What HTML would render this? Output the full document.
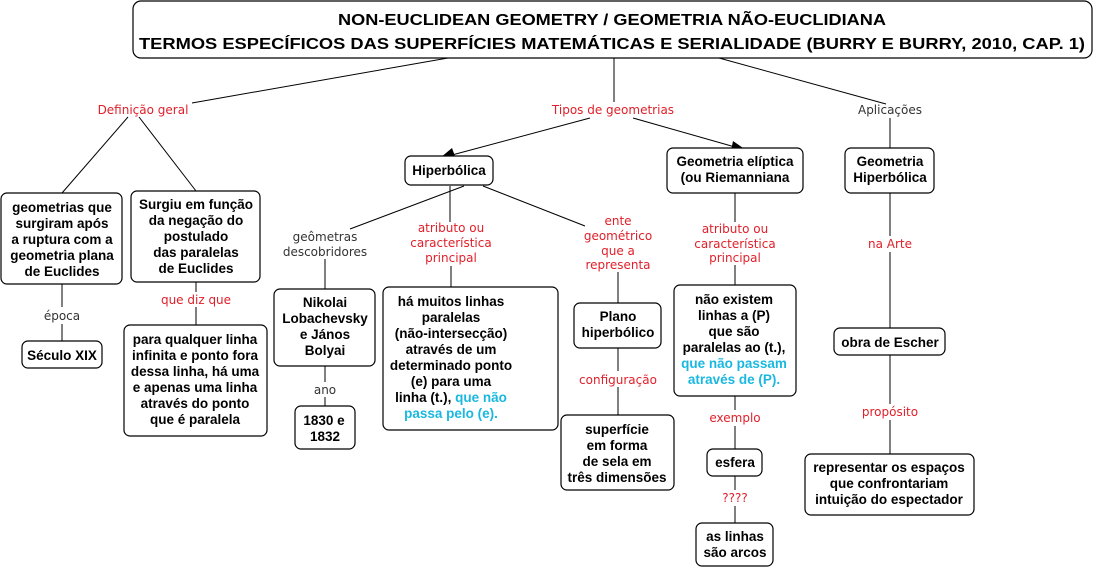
<!DOCTYPE html>
<html><head><meta charset="utf-8"><style>
body{margin:0;background:#fff;}
svg{display:block}
.n{font-family:"Liberation Sans",Arial,sans-serif;font-weight:bold;font-size:13.5px;fill:#000;text-anchor:middle}
.l{font-family:"DejaVu Sans",Verdana,sans-serif;font-size:12px;fill:#e0202a;text-anchor:middle}
.k{fill:#333}
.c{fill:#1ab8e0}
rect{fill:#fff;stroke:#000;stroke-width:1.2}
line{stroke:#000;stroke-width:1}
</style></head><body>
<svg width="1097" height="569" xmlns="http://www.w3.org/2000/svg">
<line x1="448" y1="58" x2="192" y2="103"/>
<line x1="614" y1="58" x2="614" y2="102"/>
<line x1="719" y1="58" x2="886" y2="104"/>
<line x1="128" y1="117" x2="62" y2="193"/>
<line x1="139" y1="117" x2="196" y2="191"/>
<line x1="590" y1="118" x2="452" y2="155"/>
<polygon points="440,158 452,148 456,159" fill="#000"/>
<line x1="633" y1="118" x2="735" y2="147"/>
<polygon points="746,150 733,141 731,151" fill="#000"/>
<line x1="890" y1="118" x2="890" y2="148"/>
<line x1="62" y1="284" x2="62" y2="307"/><line x1="62" y1="324" x2="62" y2="341"/>
<line x1="196" y1="282" x2="196" y2="292"/><line x1="196" y1="307" x2="196" y2="325"/>
<line x1="464" y1="186" x2="350" y2="229"/>
<line x1="450" y1="186" x2="450" y2="222"/>
<line x1="483" y1="186" x2="585" y2="226"/>
<line x1="325" y1="259" x2="325" y2="289"/>
<line x1="325" y1="366" x2="325" y2="382"/><line x1="325" y1="397" x2="325" y2="406"/>
<line x1="451" y1="266" x2="451" y2="287"/>
<line x1="618" y1="272" x2="618" y2="303"/>
<line x1="618" y1="348" x2="618" y2="371"/><line x1="618" y1="387" x2="618" y2="415"/>
<line x1="735" y1="193" x2="735" y2="222"/><line x1="735" y1="265" x2="735" y2="285"/>
<line x1="735" y1="396" x2="735" y2="410"/><line x1="735" y1="426" x2="735" y2="449"/>
<line x1="735" y1="476" x2="735" y2="490"/><line x1="735" y1="506" x2="735" y2="523"/>
<line x1="890" y1="193" x2="890" y2="236"/><line x1="890" y1="252" x2="890" y2="328"/>
<line x1="890" y1="355" x2="890" y2="404"/><line x1="890" y1="420" x2="890" y2="454"/>

<rect x="133" y="1" width="959" height="57" rx="8"/>
<text class="n" x="612" y="25" style="font-size:16px" textLength="548" lengthAdjust="spacingAndGlyphs">NON-EUCLIDEAN GEOMETRY / GEOMETRIA NÃO-EUCLIDIANA</text>
<text class="n" x="612" y="49" style="font-size:16px" textLength="946" lengthAdjust="spacingAndGlyphs">TERMOS ESPECÍFICOS DAS SUPERFÍCIES MATEMÁTICAS E SERIALIDADE (BURRY E BURRY, 2010, CAP. 1)</text>

<text class="l" x="143" y="114">Definição geral</text>
<text class="l" x="613" y="114">Tipos de geometrias</text>
<text class="l k" x="890" y="114">Aplicações</text>
<text class="l k" x="62" y="320">época</text>
<text class="l" x="196" y="304">que diz que</text>
<text class="l k" x="325" y="241">geômetras</text><text class="l k" x="325" y="256">descobridores</text>
<text class="l k" x="325" y="394">ano</text>
<text class="l" x="451" y="232">atributo ou</text><text class="l" x="451" y="247">característica</text><text class="l" x="451" y="262">principal</text>
<text class="l" x="618" y="225">ente</text><text class="l" x="618" y="240">geométrico</text><text class="l" x="618" y="255">que a</text><text class="l" x="618" y="269">representa</text>
<text class="l" x="618" y="384">configuração</text>
<text class="l" x="735" y="233">atributo ou</text><text class="l" x="735" y="248">característica</text><text class="l" x="735" y="262">principal</text>
<text class="l" x="735" y="422">exemplo</text>
<text class="l" x="735" y="502">????</text>
<text class="l" x="890" y="248">na Arte</text>
<text class="l" x="890" y="416">propósito</text>

<rect x="1" y="193" width="121" height="91" rx="6"/>
<text class="n" x="62" y="212">geometrias que</text><text class="n" x="62" y="228">surgiram após</text><text class="n" x="62" y="244">a ruptura com a</text><text class="n" x="62" y="260">geometria plana</text><text class="n" x="62" y="276">de Euclides</text>

<rect x="131" y="191" width="129" height="91" rx="6"/>
<text class="n" x="196" y="209">Surgiu em função</text><text class="n" x="196" y="225">da negação do</text><text class="n" x="196" y="241">postulado</text><text class="n" x="196" y="257">das paralelas</text><text class="n" x="196" y="273">de Euclides</text>

<rect x="22" y="341" width="80" height="27" rx="6"/>
<text class="n" x="62" y="360">Século XIX</text>

<rect x="124" y="325" width="143" height="111" rx="6"/>
<text class="n" x="195" y="344">para qualquer linha</text><text class="n" x="195" y="360">infinita e ponto fora</text><text class="n" x="195" y="376">dessa linha, há uma</text><text class="n" x="195" y="392">e apenas uma linha</text><text class="n" x="195" y="408">através do ponto</text><text class="n" x="195" y="424">que é paralela</text>

<rect x="405" y="156" width="88" height="29" rx="6"/>
<text class="n" x="449" y="175">Hiperbólica</text>

<rect x="274" y="289" width="101" height="77" rx="6"/>
<text class="n" x="325" y="307">Nikolai</text><text class="n" x="325" y="323">Lobachevsky</text><text class="n" x="325" y="339">e János</text><text class="n" x="325" y="355">Bolyai</text>

<rect x="295" y="406" width="60" height="43" rx="6"/>
<text class="n" x="324" y="425">1830 e</text><text class="n" x="325" y="441">1832</text>

<rect x="383" y="287" width="175" height="143" rx="6"/>
<text class="n" x="451" y="306">há muitos linhas</text><text class="n" x="451" y="322">paralelas</text><text class="n" x="451" y="338">(não-intersecção)</text><text class="n" x="451" y="354">através de um</text><text class="n" x="451" y="370">determinado ponto</text><text class="n" x="451" y="386">(e) para uma</text>
<text class="n" x="451" y="402">linha (t.), <tspan class="c">que não</tspan></text><text class="n c" x="451" y="418">passa pelo (e).</text>

<rect x="574" y="303" width="87" height="45" rx="6"/>
<text class="n" x="618" y="321">Plano</text><text class="n" x="618" y="337">hiperbólico</text>

<rect x="561" y="415" width="113" height="75" rx="6"/>
<text class="n" x="617" y="434">superfície</text><text class="n" x="617" y="450">em forma</text><text class="n" x="617" y="466">de sela em</text><text class="n" x="617" y="482">três dimensões</text>

<rect x="667" y="148" width="136" height="45" rx="6"/>
<text class="n" x="735" y="166">Geometria elíptica</text><text class="n" x="735" y="182">(ou Riemanniana</text>

<rect x="674" y="285" width="122" height="111" rx="6"/>
<text class="n" x="734" y="304">não existem</text><text class="n" x="734" y="320">linhas a (P)</text><text class="n" x="734" y="336">que são</text><text class="n" x="734" y="352">paralelas ao (t.),</text><text class="n c" x="734" y="368">que não passam</text><text class="n c" x="734" y="384">através de (P).</text>

<rect x="707" y="449" width="55" height="27" rx="6"/>
<text class="n" x="735" y="467">esfera</text>

<rect x="696" y="523" width="77" height="43" rx="6"/>
<text class="n" x="735" y="541">as linhas</text><text class="n" x="735" y="557">são arcos</text>

<rect x="845" y="148" width="89" height="45" rx="6"/>
<text class="n" x="890" y="166">Geometria</text><text class="n" x="890" y="182">Hiperbólica</text>

<rect x="834" y="328" width="111" height="27" rx="6"/>
<text class="n" x="890" y="347">obra de Escher</text>

<rect x="805" y="454" width="169" height="61" rx="6"/>
<text class="n" x="889" y="472">representar os espaços</text><text class="n" x="889" y="488">que confrontariam</text><text class="n" x="889" y="504">intuição do espectador</text>
</svg>
</body></html>
